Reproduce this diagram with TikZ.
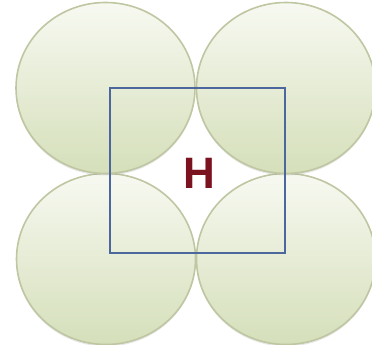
\documentclass[tikz,border=0pt]{standalone}
\usepackage{fontspec}
\setmainfont{Liberation Sans}
\usetikzlibrary{shapes.geometric,shadows}
\definecolor{balltop}{RGB}{247,249,241}
\definecolor{ballbot}{RGB}{213,223,186}
\definecolor{ballline}{RGB}{190,198,162}
\definecolor{cellblue}{RGB}{76,102,158}
\definecolor{hred}{RGB}{122,18,32}
\begin{document}
\begin{tikzpicture}[x=1pt, y=1pt,
      ball/.style={ellipse, draw=ballline, line width=1.6pt, minimum width=179pt, minimum height=171pt, inner sep=0pt,
        top color=balltop, bottom color=ballbot, middle color=balltop!50!ballbot,
        drop shadow={opacity=0.18, shadow xshift=0pt, shadow yshift=-2pt}},
      cell/.style={draw=cellblue, line width=2.6pt, line join=miter}]
    \useasboundingbox (0,0) rectangle (372,345);
    \clip (0,0) rectangle (372,345);
    \node[ball] (bl) at (106,86) {};
    \node[ball] (br) at (286,86) {};
    \node[ball] (tl) at (105.5,257) {};
    \node[ball] (tr) at (286,257) {};
    \coordinate (c1) at (110,257);
    \coordinate (c2) at (285,92);
    \draw[cell] (c1) rectangle (c2);
    \node[text=hred, font=\bfseries\fontsize{44}{44}\selectfont, inner sep=0pt] (h) at (199,172) {H};
  \end{tikzpicture}
\end{document}
